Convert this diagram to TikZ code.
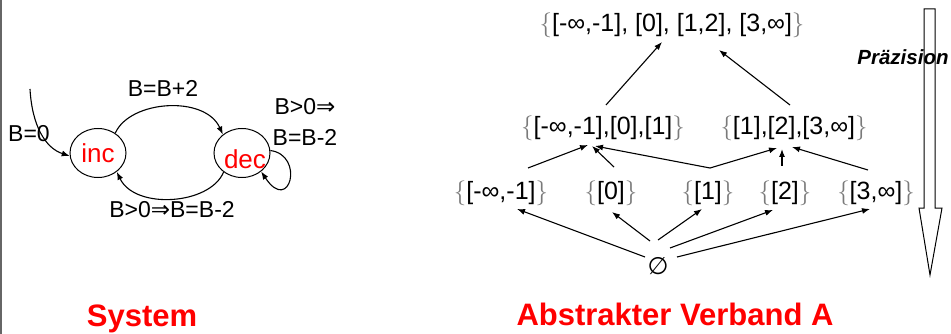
\documentclass[tikz,border=0pt]{standalone}
\usepackage{fontspec}
\setmainfont{Liberation Sans}
\newfontfamily\symfont{DejaVu Sans}
\usepackage{xcolor}
\definecolor{cRed}{HTML}{FF0000}
\definecolor{cBrace}{HTML}{7A7A7A}
\usepackage{tikz}
\usetikzlibrary{arrows.meta, shapes.geometric}

\newcommand{\sopen}{{\color{cBrace}$\{$}}
\newcommand{\sclose}{{\color{cBrace}$\}$}}
\newcommand{\impl}{{\symfont ⇒}}

\begin{document}
\begin{tikzpicture}[x=1pt, y=-1pt,
    lbl/.style={anchor=base, inner sep=0pt, font=\fontsize{23}{27}\selectfont},
    stnode/.style={draw, ellipse, line width=1pt, minimum width=56pt,
                   minimum height=49pt, inner sep=0pt, text=cRed,
                   font=\fontsize{26}{30}\selectfont},
    sttext/.style={text=cRed, inner sep=0pt, font=\fontsize{26}{30}\selectfont},
    elem/.style={anchor=base, inner sep=0pt, font=\fontsize{25}{30}\selectfont},
    title/.style={anchor=base, inner sep=0pt, text=cRed,
                  font=\bfseries\fontsize{31}{36}\selectfont},
    arr/.style={-{Latex[length=8pt,width=6pt]}, line width=1.1pt}
]
\useasboundingbox (0,0) rectangle (951,334);
\draw[line width=2pt, black!60] (1,0) -- (1,334);

% Automat
\node[stnode] (inc) at (98,153) {inc};
\node[stnode, label={[sttext, shift={(3,6)}]center:dec}] (dec) at (242,153) {};
\coordinate (start) at (30,89);

\node[lbl] (linit) at (29,142) {B=0};
\node[lbl] (lup) at (163,97) {B=B+2};
\node[lbl] (lloopa) at (305,115) {B>0\impl};
\node[lbl] (lloopb) at (305,146) {B=B-2};
\node[lbl] (ldown) at (172,218) {B>0\impl B=B-2};

\draw[arr] (start) .. controls (32,125) and (45,148) .. (inc.186);
\draw[arr] (inc.49) .. controls (130,100) and (205,95) .. (dec.136);
\draw[arr] (dec.226) .. controls (210,205) and (135,210) .. (inc.315);
\draw[arr] (dec.5) .. controls (305,155) and (290,215) .. (dec.316);

% Verband
\node[elem] (top) at (672,32) {\sopen[-∞,-1], [0], [1,2], [3,∞]\sclose};
\node[elem] (l2a) at (603,135) {\sopen[-∞,-1],[0],[1]\sclose};
\node[elem] (l2b) at (794,135) {\sopen[1],[2],[3,∞]\sclose};
\node[elem] (s1) at (501,200) {\sopen[-∞,-1]\sclose};
\node[elem] (s2) at (611,200) {\sopen[0]\sclose};
\node[elem] (s3) at (708,200) {\sopen[1]\sclose};
\node[elem] (s4) at (785,200) {\sopen[2]\sclose};
\node[elem] (s5) at (876,200) {\sopen[3,∞]\sclose};
\node[elem, anchor=center, font=\symfont\fontsize{24}{28}\selectfont] (bot) at (658,266) {∅};

\draw[arr] ([shift={(3,-30)}]l2a.base) -- ([shift={(-10,10)}]top.base);
\draw[arr] ([shift={(-4,-30)}]l2b.base) -- ([shift={(47,18)}]top.base);

\draw[arr] ([shift={(27,-32)}]s1.base) -- ([shift={(-15,10)}]l2a.base);
\draw[arr] ([shift={(3,-33)}]s2.base) -- ([shift={(-11,11)}]l2a.base);
\draw[arr] ([shift={(2,-32)}]s3.base) -- ([shift={(-8,11)}]l2a.base);
\draw[arr] ([shift={(2,-32)}]s3.base) -- ([shift={(-17,13)}]l2b.base);
\draw[arr] ([shift={(-3,-34)}]s4.base) -- ([shift={(-12,14)}]l2b.base);
\draw[arr] ([shift={(-8,-30)}]s5.base) -- ([shift={(-2,12)}]l2b.base);

\draw[arr] ([shift={(-13,-9)}]bot.center) -- ([shift={(16,9)}]s1.base);
\draw[arr] ([shift={(-8,-25)}]bot.center) -- ([shift={(1,12)}]s2.base);
\draw[arr] ([shift={(0,-26)}]bot.center) -- ([shift={(-6,9)}]s3.base);
\draw[arr] ([shift={(12,-18)}]bot.center) -- ([shift={(-12,10)}]s4.base);
\draw[arr] ([shift={(19,-9)}]bot.center) -- ([shift={(-6,9)}]s5.base);

% Praezision
\node[anchor=base, inner sep=0pt, font=\bfseries\itshape\fontsize{20.5}{24}\selectfont] (prec) at (903,65) {Präzision};
\draw[line width=1pt] (924,9) -- (935,9) -- (935,208) -- (942,208)
    -- (930,275) -- (919,208) -- (924,208) -- cycle;

\node[title] (tsys) at (142,326) {System};
\node[title] (tabs) at (675,325) {Abstrakter Verband A};
\end{tikzpicture}
\end{document}
